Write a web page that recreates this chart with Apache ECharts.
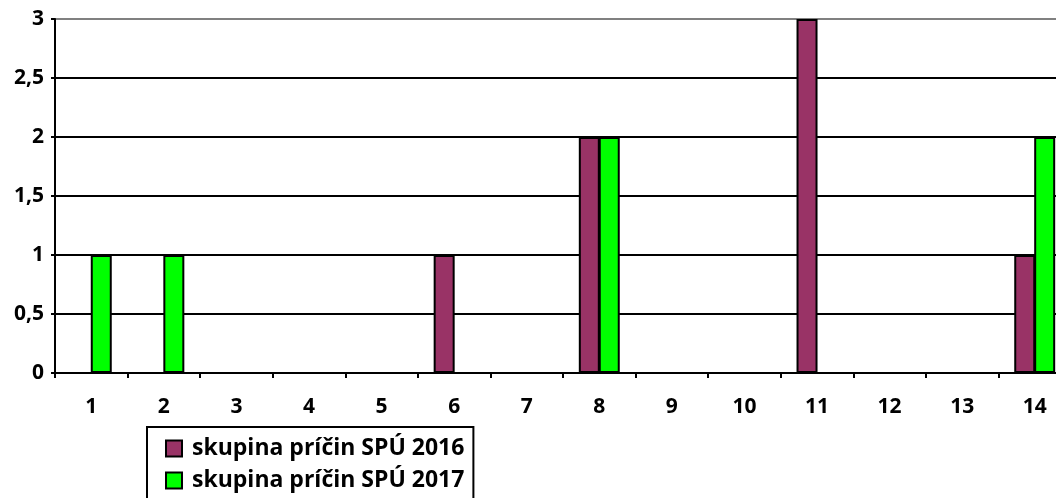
<!DOCTYPE html>
<html>
<head>
<meta charset="utf-8">
<script src="https://cdn.jsdelivr.net/npm/echarts@6/dist/echarts.min.js"></script>
<style>
  html, body { margin: 0; padding: 0; background: #fff; }
  #chart { width: 1056px; height: 498px; }
</style>
</head>
<body>
<div id="chart"></div>
<script>
const categories = ['1', '2', '3', '4', '5', '6', '7', '8', '9', '10', '11', '12', '13', '14']
const values2016 = [0, 0, 0, 0, 0, 1, 0, 2, 0, 0, 3, 0, 0, 1]
const values2017 = [1, 1, 0, 0, 0, 0, 0, 2, 0, 0, 0, 0, 0, 2]
const name2016 = 'skupina príčin SPÚ 2016'
const name2017 = 'skupina príčin SPÚ 2017'

const font = '"Open Sans", Lato, sans-serif'
const chart = echarts.init(document.getElementById('chart'))
chart.setOption({
  animation: false,
  textStyle: { fontFamily: font },
  grid: { left: 55, top: 19, width: 1016, height: 354, outerBoundsMode: 'none' },
  legend: {
    orient: 'vertical',
    left: 147,
    top: 427,
    height: 140,
    padding: [10, 9, 12, 18],
    borderColor: '#000',
    borderWidth: 2,
    itemWidth: 16,
    itemHeight: 16,
    itemGap: 9,
    icon: 'rect',
    textStyle: { fontFamily: font, fontWeight: 'bold', fontSize: 23, color: '#000', padding: [0, 0, 0, 5] },
    data: [name2016, name2017]
  },
  xAxis: {
    type: 'category',
    data: categories,
    axisLine: { lineStyle: { color: '#000', width: 2 } },
    axisTick: { show: true, length: 5, lineStyle: { color: '#000', width: 2 } },
    axisLabel: { color: '#000', fontWeight: 'bold', fontSize: 21, margin: 24 }
  },
  yAxis: {
    type: 'value',
    min: 0,
    max: 3,
    interval: 0.5,
    axisLine: { show: true, lineStyle: { color: '#000', width: 2 } },
    axisTick: { show: true, length: 4, lineStyle: { color: '#000', width: 2 } },
    axisLabel: {
      color: '#000', fontWeight: 'bold', fontSize: 21, margin: 11,
      formatter: v => String(v).replace('.', ',')
    },
    splitLine: {
      lineStyle: { color: ['#000', '#000', '#000', '#000', '#000', '#000', '#808080'], width: 2 }
    }
  },
  series: [
    {
      name: name2016,
      type: 'bar',
      data: values2016,
      barWidth: 21,
      barGap: '-5%',
      itemStyle: { color: '#993366', borderColor: '#000', borderWidth: 2 }
    },
    {
      name: name2017,
      type: 'bar',
      data: values2017,
      barWidth: 21,
      barGap: '-5%',
      itemStyle: { color: '#00ff00', borderColor: '#000', borderWidth: 2 }
    }
  ]
})
</script>
</body>
</html>
